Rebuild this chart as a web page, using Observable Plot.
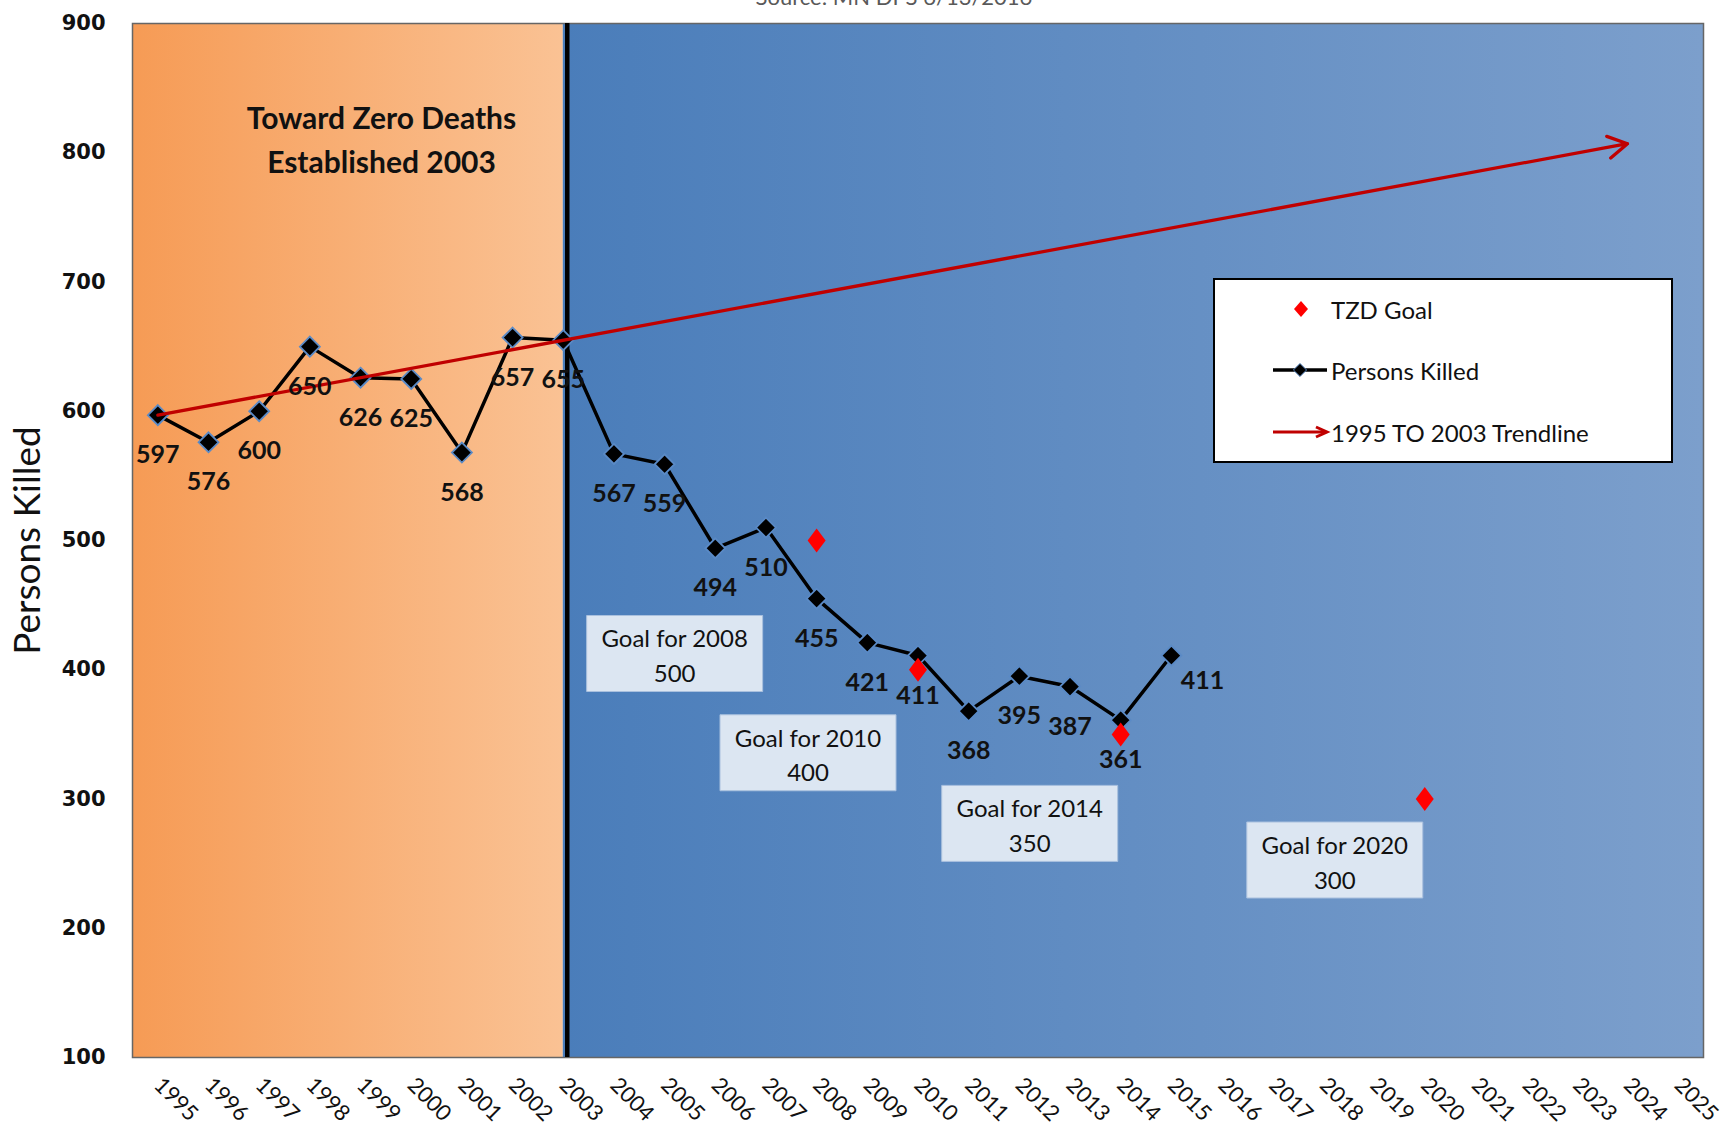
<!DOCTYPE html>
<html>
<head>
<meta charset="utf-8">
<script src="https://cdn.jsdelivr.net/npm/d3@7"></script>
<script src="https://cdn.jsdelivr.net/npm/@observablehq/plot@0.6"></script>
<style>
  body { margin: 0; background: #fff; font-family: Lato, "Open Sans", sans-serif; }
  #wrap { position: relative; width: 1731px; height: 1134px; overflow: hidden; }
  #source { position: absolute; top: -17px; left: 0; width: 1788px; text-align: center; font-size: 22px; color: #595959; }
  #legend { position: absolute; left: 1213px; top: 278px; width: 456px; height: 181px; background: #fff; border: 2px solid #000; }
  .li { position: absolute; left: 0; height: 30px; display: flex; align-items: center; font-size: 24px; color: #111; }
  .li svg { width: 118px; height: 30px; }
  .li span { margin-left: -2px; }
</style>
</head>
<body>
<div id="wrap">
  <div id="source">Source: MN DPS 6/13/2016</div>
</div>
<script>
// ---- data ----
const killedYears = [1995, 1996, 1997, 1998, 1999, 2000, 2001, 2002, 2003, 2004, 2005, 2006, 2007, 2008, 2009, 2010, 2011, 2012, 2013, 2014, 2015];
const killedValues = [597, 576, 600, 650, 626, 625, 568, 657, 655, 567, 559, 494, 510, 455, 421, 411, 368, 395, 387, 361, 411];
const goalYears = [2008, 2010, 2014, 2020];
const goalValues = [500, 400, 350, 300];
const trendYears = [1995, 2024];
const trendValues = [597, 807];
const tzdYear = 2003;
const axisYears = [1995, 1996, 1997, 1998, 1999, 2000, 2001, 2002, 2003, 2004, 2005, 2006, 2007, 2008, 2009, 2010, 2011, 2012, 2013, 2014, 2015, 2016, 2017, 2018, 2019, 2020, 2021, 2022, 2023, 2024, 2025];
const yTicks = [100, 200, 300, 400, 500, 600, 700, 800, 900];
const titleText = "Toward Zero Deaths\nEstablished 2003";
const yLabel = "Persons Killed";
const legendItems = ["TZD Goal", "Persons Killed", "1995 TO 2003 Trendline"];

// ---- derived tables ----
const killed = killedYears.map((year, i) => ({year, value: killedValues[i]}));
const goals = goalYears.map((year, i) => ({year, value: goalValues[i]}));
const trend = [{x1: trendYears[0], y1: trendValues[0], x2: trendYears[1], y2: trendValues[1]}];
const xDomain = [axisYears[0] - 0.5, axisYears[axisYears.length - 1] + 0.5];
const eras = [{from: xDomain[0], to: tzdYear}, {from: tzdYear, to: xDomain[1]}];

// layout (offsets in px) for goal annotation boxes
const goalBoxOffset = {2008: [-142, 113], 2010: [-110, 83], 2014: [-91, 89], 2020: [-90, 61]};
const boxSymbol = {draw(ctx) { ctx.rect(-88, -38, 176, 76); }};
const goalDiamond = {draw(ctx) { ctx.moveTo(0, -12); ctx.lineTo(9, 0); ctx.lineTo(0, 12); ctx.lineTo(-9, 0); ctx.closePath(); }};

const labelFont = {fontFamily: "Lato, sans-serif", fontWeight: "bold", fontSize: 25, fill: "#111"};
const lastYear = killedYears[killedYears.length - 1];

const goalMarks = goals.flatMap(g => {
  const [dx, dy] = goalBoxOffset[g.year];
  return [
    Plot.dot([g], {x: "year", y: "value", symbol: boxSymbol, fill: "#DCE6F2", stroke: "#A9C0DE", strokeWidth: 1, dx, dy}),
    Plot.text([g], {x: "year", y: "value", text: d => `Goal for ${d.year}\n${d.value}`, dx, dy, fontSize: 24, lineHeight: 1.45, fill: "#111", fontFamily: "Lato, sans-serif"})
  ];
});

const chart = Plot.plot({
  width: 1731,
  height: 1134,
  marginLeft: 132,
  marginRight: 28,
  marginTop: 23,
  marginBottom: 77,
  style: {background: "transparent", overflow: "visible"},
  x: {type: "linear", domain: xDomain},
  y: {domain: [100, 900]},
  marks: [
    Plot.rectX([eras[0]], {x1: "from", x2: "to", fill: "url(#gOrange)"}),
    Plot.rectX([eras[1]], {x1: "from", x2: "to", fill: "url(#gBlue)"}),
    Plot.frame({stroke: "#666", strokeWidth: 1.5}),
    Plot.ruleX([tzdYear], {stroke: "#000", strokeWidth: 4.5, dx: 4}),
    Plot.axisY(yTicks, {tickSize: 0, tickPadding: 27, fontSize: 21, fontWeight: "bold", fontFamily: "DejaVu Sans, sans-serif", fill: "#111", label: null}),
    Plot.axisX(axisYears, {tickSize: 0, tickRotate: 45, tickPadding: 24, fontSize: 22, fontFamily: "Lato, sans-serif", fill: "#111", tickFormat: d => String(d), label: null}),
    Plot.text([yLabel], {frameAnchor: "left", textAnchor: "middle", rotate: -90, dx: -104, fontSize: 37, fontFamily: "Lato, sans-serif", fill: "#111"}),
    Plot.line(killed, {x: "year", y: "value", stroke: "#000", strokeWidth: 3.5}),
    Plot.dot(killed, {x: "year", y: "value", symbol: "diamond2", r: 9, fill: "#000", stroke: "#5A8AC6", strokeWidth: 1.8}),
    Plot.arrow(trend, {x1: "x1", y1: "y1", x2: "x2", y2: "y2", stroke: "#C00000", strokeWidth: 3.3, headLength: 10, bend: 0}),
    Plot.dot(goals, {x: "year", y: "value", symbol: goalDiamond, fill: "#FF0000"}),
    Plot.text(killed.filter(d => d.year !== lastYear), {x: "year", y: "value", text: d => String(d.value), dy: 40, ...labelFont}),
    Plot.text(killed.filter(d => d.year === lastYear), {x: "year", y: "value", text: d => String(d.value), dx: 31, dy: 25, ...labelFont}),
    ...goalMarks,
    Plot.text([titleText], {frameAnchor: "top-left", dx: 249, dy: 113, textAnchor: "middle", lineAnchor: "middle", lineHeight: 1.47, fontSize: 30, fontWeight: "bold", fontFamily: "Lato, sans-serif", fill: "#111"})
  ]
});

// gradients
const defs = d3.select(chart).insert("defs", ":first-child");
const mk = (id, c0, c1) => {
  const g = defs.append("linearGradient").attr("id", id).attr("x1", "0%").attr("x2", "100%").attr("y1", "0%").attr("y2", "0%");
  g.append("stop").attr("offset", "0%").attr("stop-color", c0);
  g.append("stop").attr("offset", "100%").attr("stop-color", c1);
};
mk("gOrange", "#F69B55", "#FAC294");
mk("gBlue", "#4A7DBA", "#7C9FCC");

const wrap = document.getElementById("wrap");
wrap.insertBefore(chart, wrap.firstChild);

// legend (HTML)
const legend = d3.select(wrap).append("div").attr("id", "legend");
const tops = [14, 75, 137];
legendItems.forEach((label, i) => {
  const item = legend.append("div").attr("class", "li").style("top", tops[i] + "px");
  const s = item.append("svg").attr("viewBox", "0 0 118 30");
  if (i === 0) {
    s.append("path").attr("d", "M0,-8L7,0L0,8L-7,0Z").attr("transform", "translate(86,15)").attr("fill", "#FF0000");
  } else if (i === 1) {
    s.append("line").attr("x1", 58).attr("x2", 112).attr("y1", 15).attr("y2", 15).attr("stroke", "#000").attr("stroke-width", 3.5);
    s.append("path").attr("d", d3.symbol(d3.symbolDiamond2, 110)()).attr("transform", "translate(85,15)").attr("fill", "#000").attr("stroke", "#5A8AC6").attr("stroke-width", 1);
  } else {
    s.append("line").attr("x1", 58).attr("x2", 110).attr("y1", 15).attr("y2", 15).attr("stroke", "#C00000").attr("stroke-width", 3);
    s.append("path").attr("d", "M101,10 L112,15 L101,20").attr("fill", "none").attr("stroke", "#C00000").attr("stroke-width", 3);
  }
  item.append("span").text(label);
});
</script>
</body>
</html>
